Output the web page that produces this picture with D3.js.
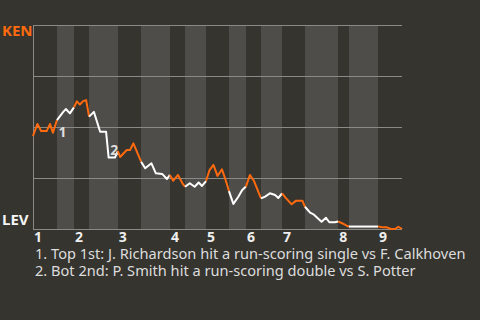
<!DOCTYPE html>
<meta charset="utf-8">
<style>

body {
  margin: 0;
  background: #35342f;
}

text {
  font-family: "Noto Sans", "Open Sans", sans-serif;
}

.grid {
  stroke: #8a8986;
  stroke-width: 1px;
  shape-rendering: crispEdges;
}

.wp {
  fill: none;
  stroke-width: 2px;
  stroke-linejoin: round;
}

</style>
<svg width="480" height="320"></svg>
<script src="https://d3js.org/d3.v7.min.js"></script>
<script>

// teams: away on top, home at bottom
var awayTeam = "KEN",
    homeTeam = "LEV";

// start of each half inning, in play units (top 1st, bot 1st, ...)
var halfStarts = [0, 6.5, 11.1, 15.2, 23.0, 29.3, 37.1, 41.2, 46.9, 53.1, 57.7, 61.8, 67.5, 73.7, 82.7, 85.6, 93.5];
var lastPlay = 100;

var innings = ["1", "2", "3", "4", "5", "6", "7", "8", "9"];
var wpTicks = [0, 25, 50, 75, 100];

// play position and KEN win probability (%) after each play
var plays = [0, 1.2, 2.2, 3.7, 4.6, 5.4, 6.5, 8.2, 8.9, 10.0, 11.1, 11.9, 12.7, 13.6, 14.4, 15.2,
  16.5, 18.2, 19.8, 20.5, 22.2, 23.0, 23.6, 25.4, 26.3, 27.2, 29.3, 30.4, 32.1, 33.3, 35.0, 36.3,
  37.1, 38.0, 39.3, 40.5, 41.2, 42.5, 43.8, 44.9, 45.8, 46.9, 47.8, 48.9, 50.0, 51.2, 52.2, 53.1,
  54.3, 55.6, 56.7, 57.7, 58.8, 59.9, 61.8, 62.9, 64.2, 65.6, 66.5, 67.5, 68.6, 70.1, 71.3, 73.0,
  73.7, 75.1, 76.0, 78.2, 79.4, 80.3, 81.8, 82.7, 83.9, 85.0, 85.6, 93.5, 94.9, 95.9, 97.0, 98.1,
  99.0, 100];
var kenWP = [45.6, 51.5, 48.0, 48.0, 51.5, 47.2, 53.4, 57.4, 58.8, 56.7, 59.6, 62.6, 61.0, 62.7, 63.2, 55.1,
  57.4, 47.7, 47.7, 35.0, 35.0, 38.2, 35.3, 38.7, 38.7, 42.0, 33.0, 29.8, 32.2, 27.3, 27.0, 24.5,
  26.5, 23.7, 26.5, 22.4, 20.7, 22.4, 20.7, 22.8, 21.1, 23.5, 28.7, 31.4, 26.0, 29.3, 24.0, 18.6,
  12.3, 15.7, 19.1, 20.8, 26.5, 23.5, 15.0, 15.9, 17.5, 16.7, 15.2, 17.5, 15.0, 12.1, 13.9, 13.9,
  10.9, 8.0, 7.2, 3.6, 5.5, 3.3, 3.3, 3.7, 2.7, 1.6, 1.2, 1.2, 0.8, 0.8, 0.0, 0.0,
  1.1, 0.0];

// key plays
var notePlays = [6.5, 20.5];
var notes = [
  "1. Top 1st: J. Richardson hit a run-scoring single vs F. Calkhoven",
  "2. Bot 2nd: P. Smith hit a run-scoring double vs S. Potter"
];

var svg = d3.select("svg");

var x = d3.scaleLinear().domain([0, lastPlay]).range([33, 402]),
    y = d3.scaleLinear().domain([0, 100]).range([229, 25]);

var points = plays.map(function(p, i) { return {x: p, wp: kenWP[i]}; });

var halves = halfStarts.map(function(s, i) {
  return {start: s, end: i < halfStarts.length - 1 ? halfStarts[i + 1] : lastPlay, top: i % 2 == 0};
});

// bottom halves get the lighter band
svg.append("g").selectAll("rect")
  .data(halves.filter(function(d) { return !d.top; }))
  .enter().append("rect")
    .attr("x", function(d) { return x(d.start); })
    .attr("width", function(d) { return x(d.end) - x(d.start); })
    .attr("y", y(100))
    .attr("height", y(0) - y(100))
    .style("fill", "#4e4d4a")
    .style("shape-rendering", "crispEdges");

svg.append("g").selectAll("line")
  .data(wpTicks)
  .enter().append("line")
    .attr("class", "grid")
    .attr("x1", x(0))
    .attr("x2", x(lastPlay))
    .attr("y1", function(d) { return Math.round(y(d)) + 0.5; })
    .attr("y2", function(d) { return Math.round(y(d)) + 0.5; });

svg.append("line")
  .attr("class", "grid")
  .attr("x1", x(0) + 0.5).attr("x2", x(0) + 0.5)
  .attr("y1", y(100)).attr("y2", y(0) + 1);

var line = d3.line()
  .x(function(d) { return x(d.x); })
  .y(function(d) { return y(d.wp); });

svg.append("g").selectAll("path")
  .data(halves)
  .enter().append("path")
    .attr("class", "wp")
    .attr("d", function(h) {
      return line(points.filter(function(p) { return p.x >= h.start && p.x <= h.end; }));
    })
    .style("stroke", function(h) { return h.top ? "#ff6a0e" : "#ffffff"; });

svg.append("text")
  .attr("x", 2).attr("y", 36)
  .style("font-size", "15px").style("font-weight", "bold")
  .style("fill", "#ff6a0e")
  .text(awayTeam);

svg.append("text")
  .attr("x", 2).attr("y", 225)
  .style("font-size", "15px").style("font-weight", "bold")
  .style("fill", "#f4f4f4")
  .text(homeTeam);

svg.append("g").selectAll("text")
  .data(innings)
  .enter().append("text")
    .attr("x", function(d, i) { return x(halfStarts[i * 2]) + 1; })
    .attr("y", 242)
    .style("font-size", "14px").style("font-weight", "bold")
    .style("fill", "#eeeeee")
    .text(function(d) { return d; });

// numbered markers on the line
svg.append("g").selectAll("text")
  .data(notePlays)
  .enter().append("text")
    .attr("x", function(d) { return x(d) + 1.5; })
    .attr("y", function(d, i) {
      var wp = kenWP[plays.indexOf(d)];
      return i == 0 ? y(wp) + 16.5 : y(wp) - 2.5;
    })
    .style("font-size", "14px").style("font-weight", "bold")
    .style("fill", "#dddddd")
    .text(function(d, i) { return i + 1; });

svg.append("g").selectAll("text")
  .data(notes)
  .enter().append("text")
    .attr("x", 35)
    .attr("y", function(d, i) { return 258.5 + i * 17; })
    .style("font-size", "14.6px")
    .style("fill", "#dddddd")
    .text(function(d) { return d; });

</script>
